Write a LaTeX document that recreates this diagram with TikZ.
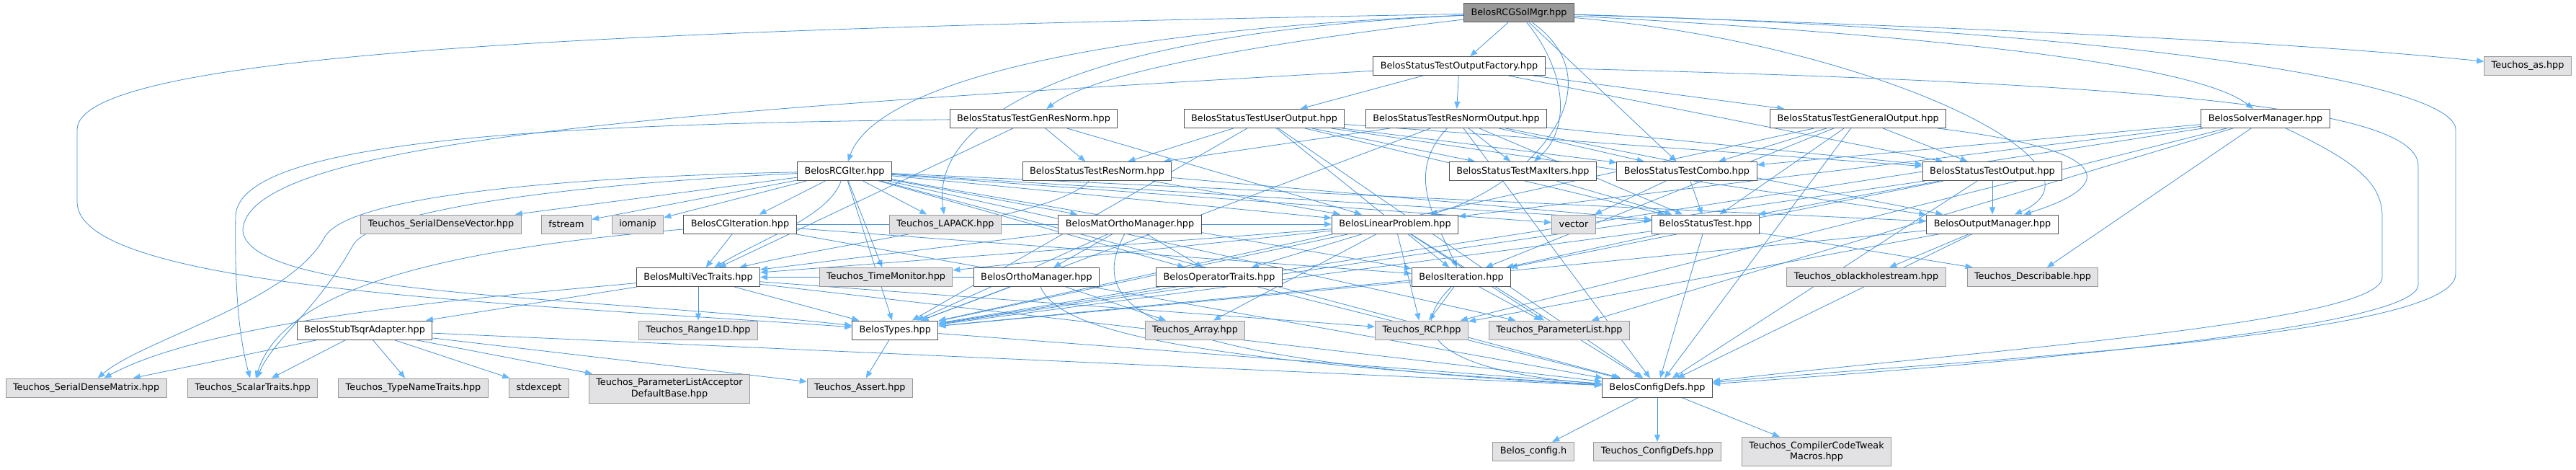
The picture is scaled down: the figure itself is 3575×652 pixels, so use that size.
\documentclass[tikz,border=0pt]{standalone}
\usepackage{fontspec}
\setmainfont{DejaVu Sans}
\usetikzlibrary{arrows.meta}
\definecolor{edgeblue}{RGB}{70,145,215}
\definecolor{tipblue}{RGB}{99,184,255}
\definecolor{extfill}{RGB}{226,225,228}
\definecolor{extdraw}{RGB}{153,153,153}
\definecolor{docdraw}{RGB}{80,80,80}
\definecolor{rootfill}{RGB}{153,153,153}
\definecolor{rootdraw}{RGB}{90,90,90}
\pgfdeclarelayer{edgelayer}
\pgfsetlayers{edgelayer,main}
\tikzset{
 box/.style={draw, line width=0.75pt, font=\fontsize{9.6}{11.5}\selectfont, inner xsep=7.5pt, inner ysep=0pt, minimum height=19.5pt, align=center, text=black},
 root/.style={box, fill=rootfill, draw=rootdraw},
 doc/.style={box, fill=white, draw=docdraw},
 ext/.style={box, fill=extfill, draw=extdraw},
 exttwo/.style={ext, minimum height=30pt},
 inc/.style={draw=edgeblue, line width=0.6pt, -{Triangle[length=7.5pt,width=6pt,color=tipblue]}},
}
\begin{document}
\begin{tikzpicture}[x=0.75pt,y=-0.75pt]
\useasboundingbox (0,0) rectangle (3575,652);
% row 0
\node[root] (rcgsol) at (2108,18) {BelosRCGSolMgr.hpp};
% row 1
\node[doc] (ofac) at (2025,91.5) {BelosStatusTestOutputFactory.hpp};
\node[ext] (tas) at (3508,91.5) {Teuchos\_as.hpp};
% row 2
\node[doc] (genres) at (1434.5,164.5) {BelosStatusTestGenResNorm.hpp};
\node[doc] (userout) at (1754.5,164.5) {BelosStatusTestUserOutput.hpp};
\node[doc] (resout) at (2021,164.5) {BelosStatusTestResNormOutput.hpp};
\node[doc] (genout) at (2578.7,164.5) {BelosStatusTestGeneralOutput.hpp};
\node[doc] (solmgr) at (3144,164.5) {BelosSolverManager.hpp};
% row 3
\node[doc] (rcgiter) at (1172,237.5) {BelosRCGIter.hpp};
\node[doc] (resnorm) at (1522.5,237.5) {BelosStatusTestResNorm.hpp};
\node[doc] (maxit) at (2113.4,237.5) {BelosStatusTestMaxIters.hpp};
\node[doc] (combo) at (2341,237.5) {BelosStatusTestCombo.hpp};
\node[doc] (stout) at (2765,237.5) {BelosStatusTestOutput.hpp};
% row 4
\node[ext] (sdvec) at (612,311) {Teuchos\_SerialDenseVector.hpp};
\node[ext] (fstream) at (786,311) {fstream};
\node[ext] (iomanip) at (885,311) {iomanip};
\node[doc] (cgit) at (1027,311) {BelosCGIteration.hpp};
\node[ext] (lapack) at (1312,311) {Teuchos\_LAPACK.hpp};
\node[doc] (matortho) at (1568,311) {BelosMatOrthoManager.hpp};
\node[doc] (linprob) at (1936,311) {BelosLinearProblem.hpp};
\node[ext] (vector) at (2184,311) {vector};
\node[doc] (sttest) at (2367,311) {BelosStatusTest.hpp};
\node[doc] (outmgr) at (2765,311) {BelosOutputManager.hpp};
% row 5
\node[doc] (mvt) at (969,384.5) {BelosMultiVecTraits.hpp};
\node[ext] (timemon) at (1229.5,384.5) {Teuchos\_TimeMonitor.hpp};
\node[doc] (orthomgr) at (1438.4,384.5) {BelosOrthoManager.hpp};
\node[doc] (optr) at (1692,384.5) {BelosOperatorTraits.hpp};
\node[doc] (iter) at (2028,384.5) {BelosIteration.hpp};
\node[ext] (oblack) at (2590,384.5) {Teuchos\_oblackholestream.hpp};
\node[ext] (describ) at (2821,384.5) {Teuchos\_Describable.hpp};
% row 6
\node[doc] (stub) at (506,458) {BelosStubTsqrAdapter.hpp};
\node[ext] (range) at (969,458) {Teuchos\_Range1D.hpp};
\node[doc] (types) at (1242.3,458) {BelosTypes.hpp};
\node[ext] (array) at (1658.5,458) {Teuchos\_Array.hpp};
\node[ext] (rcp) at (1973,458) {Teuchos\_RCP.hpp};
\node[ext] (plist) at (2164,458) {Teuchos\_ParameterList.hpp};
% row 7
\node[ext] (sdmat) at (119.6,538) {Teuchos\_SerialDenseMatrix.hpp};
\node[ext] (scalar) at (350.7,538) {Teuchos\_ScalarTraits.hpp};
\node[ext] (typename) at (573.5,538) {Teuchos\_TypeNameTraits.hpp};
\node[ext] (stdexc) at (748,538) {stdexcept};
\node[exttwo] (pladb) at (929,539) {Teuchos\_ParameterListAcceptor\\DefaultBase.hpp};
\node[ext] (tassert) at (1193.4,538) {Teuchos\_Assert.hpp};
\node[doc] (cfg) at (2300,538) {BelosConfigDefs.hpp};
% row 8
\node[ext] (bcfg) at (2128,626.5) {Belos\_config.h};
\node[ext] (tcfg) at (2300,626.5) {Teuchos\_ConfigDefs.hpp};
\node[exttwo] (cctm) at (2521,626.5) {Teuchos\_CompilerCodeTweak\\Macros.hpp};

\begin{pgfonlayer}{edgelayer}
% RCGSolMgr
\draw[inc] (rcgsol) -- (ofac);
\draw[inc] (rcgsol) .. controls (2800,40) and (3200,60) .. (tas);
\draw[inc] (rcgsol) .. controls (2700,50) and (3050,90) .. (solmgr);
\draw[inc] (rcgsol) .. controls (1750,60) and (1520,100) .. (genres);
\draw[inc] (rcgsol) .. controls (1450,45) and (1210,130) .. (rcgiter);
\draw[inc] (rcgsol) .. controls (1500,45) and (1290,160) .. (lapack);
\draw[inc] (rcgsol) .. controls (2175,100) and (2180,180) .. (maxit);
\draw[inc] (rcgsol) -- (combo);
\draw[inc] (rcgsol) .. controls (2250,120) and (2120,260) .. (linprob);
\draw[inc] (rcgsol) .. controls (2600,60) and (2950,230) .. (outmgr);
\draw[inc] (rcgsol) .. controls (900,40) and (107,70) .. (107,180) -- (107,280) .. controls (107,400) and (700,420) .. (types);
\draw[inc] (rcgsol) .. controls (2900,40) and (3408,110) .. (3408,180) -- (3408,380) .. controls (3408,470) and (2700,500) .. (cfg);
% OutputFactory
\draw[inc] (ofac) -- (stout);
\draw[inc] (ofac) -- (genout);
\draw[inc] (ofac) -- (resout);
\draw[inc] (ofac) -- (userout);
\draw[inc] (ofac) .. controls (1000,150) and (340,190) .. (337,320) .. controls (345,410) and (800,410) .. (types);
\draw[inc] (ofac) .. controls (3000,115) and (3356,150) .. (3356,230) -- (3356,395) .. controls (3356,460) and (2700,510) .. (cfg);
% GenResNorm
\draw[inc] (genres) -- (resnorm);
\draw[inc] (genres) -- (linprob);
\draw[inc] (genres) -- (mvt);
\draw[inc] (genres) .. controls (800,172) and (330,190) .. (327,300) .. controls (325,420) and (335,480) .. (scalar);
% UserOutput
\draw[inc] (userout) -- (stout);
\draw[inc] (userout) -- (resnorm);
\draw[inc] (userout) -- (maxit);
\draw[inc] (userout) -- (combo);
\draw[inc] (userout) -- (sttest);
\draw[inc] (userout) -- (outmgr);
\draw[inc] (userout) -- (iter);
\draw[inc] (userout) -- (types);
\draw[inc] (userout) -- (cfg);
% ResNormOutput
\draw[inc] (resout) -- (stout);
\draw[inc] (resout) -- (resnorm);
\draw[inc] (resout) -- (maxit);
\draw[inc] (resout) -- (combo);
\draw[inc] (resout) -- (sttest);
\draw[inc] (resout) -- (outmgr);
\draw[inc] (resout) .. controls (1950,240) and (1990,300) .. (iter);
\draw[inc] (resout) -- (types);
\draw[inc] (resout) -- (cfg);
% GeneralOutput
\draw[inc] (genout) -- (stout);
\draw[inc] (genout) -- (combo);
\draw[inc] (genout) -- (sttest);
\draw[inc] (genout) .. controls (2950,210) and (2930,260) .. (outmgr);
\draw[inc] (genout) -- (iter);
\draw[inc] (genout) -- (types);
\draw[inc] (genout) -- (cfg);
% SolverManager
\draw[inc] (solmgr) -- (types);
\draw[inc] (solmgr) -- (linprob);
\draw[inc] (solmgr) -- (combo);
\draw[inc] (solmgr) -- (plist);
\draw[inc] (solmgr) -- (rcp);
\draw[inc] (solmgr) -- (describ);
\draw[inc] (solmgr) .. controls (3260,220) and (3306,250) .. (3306,300) -- (3306,385) .. controls (3306,450) and (2700,490) .. (cfg);
% RCGIter
\draw[inc] (rcgiter) -- (sdvec);
\draw[inc] (rcgiter) -- (fstream);
\draw[inc] (rcgiter) -- (iomanip);
\draw[inc] (rcgiter) -- (cgit);
\draw[inc] (rcgiter) -- (lapack);
\draw[inc] (rcgiter) -- (matortho);
\draw[inc] (rcgiter) -- (linprob);
\draw[inc] (rcgiter) -- (vector);
\draw[inc] (rcgiter) -- (sttest);
\draw[inc] (rcgiter) -- (outmgr);
\draw[inc] (rcgiter) .. controls (1150,300) and (1060,330) .. (mvt);
\draw[inc] (rcgiter) -- (timemon);
\draw[inc] (rcgiter) -- (iter);
\draw[inc] (rcgiter) -- (optr);
\draw[inc] (rcgiter) .. controls (800,245) and (480,270) .. (450,330) .. controls (400,420) and (200,470) .. (sdmat);
\draw[inc] (rcgiter) .. controls (800,255) and (520,290) .. (490,340) .. controls (440,430) and (380,470) .. (scalar);
\draw[inc] (rcgiter) -- (types);
\draw[inc] (rcgiter) -- (cfg);
\draw[inc] (rcgiter) -- (plist);
% ResNorm, MaxIters, Combo
\draw[inc] (resnorm) -- (sttest);
\draw[inc] (resnorm) -- (linprob);
\draw[inc] (resnorm) .. controls (1470,300) and (1200,330) .. (mvt);
\draw[inc] (maxit) -- (sttest);
\draw[inc] (combo) -- (sttest);
\draw[inc] (combo) -- (vector);
% StatusTestOutput
\draw[inc] (stout) -- (outmgr);
\draw[inc] (stout) -- (sttest);
\draw[inc] (stout) -- (iter);
\draw[inc] (stout) -- (types);
\draw[inc] (stout) -- (cfg);
% CGIteration
\draw[inc] (cgit) -- (iter);
\draw[inc] (cgit) -- (mvt);
\draw[inc] (cgit) .. controls (700,340) and (400,380) .. (scalar);
\draw[inc] (cgit) -- (cfg);
\draw[inc] (cgit) -- (linprob);
% MatOrthoManager
\draw[inc] (matortho) -- (orthomgr);
\draw[inc] (matortho) -- (optr);
\draw[inc] (matortho) -- (mvt);
\draw[inc] (matortho) -- (types);
\draw[inc] (matortho) .. controls (1510,420) and (1560,500) .. (cfg);
% OrthoManager
\draw[inc] (orthomgr) -- (types);
\draw[inc] (orthomgr) -- (array);
\draw[inc] (orthomgr) -- (mvt);
\draw[inc] (orthomgr) .. controls (1470,460) and (1650,500) .. (cfg);
% OperatorTraits
\draw[inc] (optr) -- (types);
\draw[inc] (optr) -- (cfg);
% LinearProblem
\draw[inc] (linprob) -- (mvt);
\draw[inc] (linprob) -- (optr);
\draw[inc] (linprob) -- (timemon);
\draw[inc] (linprob) -- (plist);
\draw[inc] (linprob) -- (types);
\draw[inc] (linprob) -- (cfg);
\draw[inc] (linprob) -- (rcp);
\draw[inc] (linprob) -- (array);
% StatusTest
\draw[inc] (sttest) -- (iter);
\draw[inc] (sttest) -- (describ);
\draw[inc] (sttest) -- (cfg);
\draw[inc] (sttest) -- (types);
% OutputManager
\draw[inc] (outmgr) -- (oblack);
\draw[inc] (outmgr) -- (types);
\draw[inc] (outmgr) -- (cfg);
\draw[inc] (outmgr) -- (rcp);
% MultiVecTraits
\draw[inc] (mvt) -- (range);
\draw[inc] (mvt) -- (stub);
\draw[inc] (mvt) -- (types);
\draw[inc] (mvt) .. controls (700,410) and (300,440) .. (sdmat);
\draw[inc] (mvt) -- (rcp);
\draw[inc] (mvt) -- (cfg);
% Iteration
\draw[inc] (iter) -- (rcp);
\draw[inc] (iter) -- (plist);
\draw[inc] (iter) .. controls (1930,480) and (2050,520) .. (cfg);
\draw[inc] (iter) -- (types);
% StubTsqrAdapter
\draw[inc] (stub) -- (sdmat);
\draw[inc] (stub) -- (scalar);
\draw[inc] (stub) -- (typename);
\draw[inc] (stub) -- (stdexc);
\draw[inc] (stub) -- (pladb);
\draw[inc] (stub) -- (tassert);
\draw[inc] (stub) -- (cfg);
% Types
\draw[inc] (types) -- (tassert);
\draw[inc] (types) -- (cfg);
% ConfigDefs
\draw[inc] (cfg) -- (bcfg);
\draw[inc] (cfg) -- (tcfg);
\draw[inc] (cfg) -- (cctm);
\end{pgfonlayer}
\end{tikzpicture}
\end{document}
